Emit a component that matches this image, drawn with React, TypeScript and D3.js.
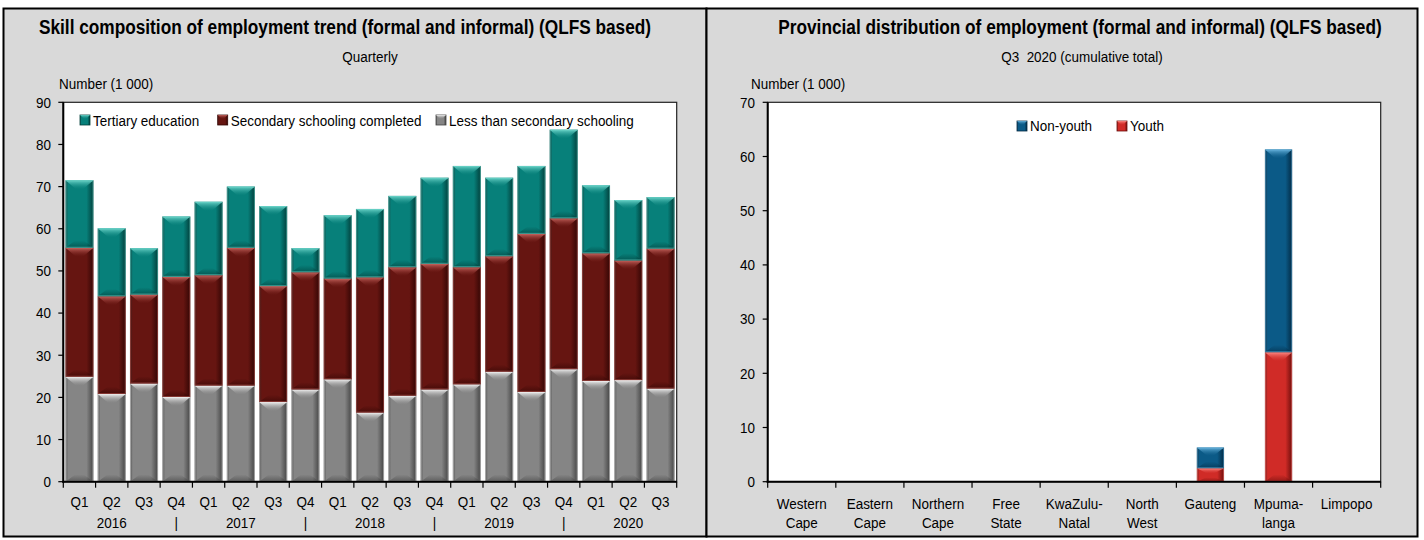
import React from 'react';
import * as d3 from 'd3';

// ---------- data ----------
const quarters = ["Q1","Q2","Q3","Q4","Q1","Q2","Q3","Q4","Q1","Q2","Q3","Q4","Q1","Q2","Q3","Q4","Q1","Q2","Q3"];
const yearRow = ["","2016","","|","","2017","","|","","2018","","|","","2019","","|","","2020",""];
const lessThanSecondary = [24.9,20.8,23.3,20.1,22.8,22.8,18.9,21.9,24.3,16.4,20.4,21.9,23.1,26.1,21.3,26.7,23.9,24.1,22.1];
const secondaryCompleted = [30.6,23.2,21.1,28.5,26.2,32.7,27.5,27.8,23.9,32.1,30.5,29.8,27.8,27.4,37.5,35.8,30.3,28.4,33.2];
const tertiaryEducation = [16.0,16.1,11.0,14.3,17.4,14.5,19.0,5.7,15.0,16.2,16.9,20.4,24.0,18.6,16.1,21.0,16.1,14.3,12.2];
const leftTicks = [0,10,20,30,40,50,60,70,80,90];
const leftSeriesNames = ["Tertiary education","Secondary schooling completed","Less than secondary schooling"];

const provinceLines = [["Western","Cape"],["Eastern","Cape"],["Northern","Cape"],["Free","State"],["KwaZulu-","Natal"],["North","West"],["Gauteng"],["Mpuma-","langa"],["Limpopo"]];
const youth = [0,0,0,0,0,0,2.5,23.9,0];
const nonYouth = [0,0,0,0,0,0,3.8,37.4,0];
const rightTicks = [0,10,20,30,40,50,60,70];
const rightSeriesNames = ["Non-youth","Youth"];

// ---------- styling ----------
const FONT = "'Liberation Sans', Arial, Helvetica, sans-serif";
const PAL: Record<string,{base:string,light:string,dark:string}> = {
  teal:{base:'#07807A',light:'#6AD3C8',dark:'#023F3B'},
  maroon:{base:'#661511',light:'#C4625C',dark:'#330604'},
  gray:{base:'#858585',light:'#F0F0F0',dark:'#444444'},
  blue:{base:'#0B5A87',light:'#66B2DC',dark:'#032B45'},
  red:{base:'#D02B27',light:'#FF8A84',dark:'#6E0E0C'},
};

function T({x,y,anchor='middle',size=15.3,weight='normal',children}:{x:number,y:number,anchor?:string,size?:number,weight?:string,children:any}) {
  return (
    <g transform={`translate(${x},${y}) scale(0.88,1)`}>
      <text textAnchor={anchor as any} fontSize={size} fontWeight={weight} fontFamily={FONT} fill="#000" style={{whiteSpace:'pre'}}>{children}</text>
    </g>
  );
}

function Defs() {
  return (
    <defs>
      {Object.entries(PAL).map(([k,c]) => (
        <React.Fragment key={k}>
          <linearGradient id={`h-${k}`} x1="0" x2="1" y1="0" y2="0">
            <stop offset="0" stopColor={c.dark} stopOpacity={0.9}/>
            <stop offset="0.1" stopColor={c.base}/>
            <stop offset="0.75" stopColor={c.base}/>
            <stop offset="1" stopColor={c.dark}/>
          </linearGradient>
          <linearGradient id={`t-${k}`} x1="0" x2="0" y1="0" y2="1">
            <stop offset="0" stopColor={c.light} stopOpacity={1}/>
            <stop offset="1" stopColor={c.base} stopOpacity={0.2}/>
          </linearGradient>
          <linearGradient id={`b-${k}`} x1="0" x2="0" y1="0" y2="1">
            <stop offset="0" stopColor={c.dark} stopOpacity={0}/>
            <stop offset="1" stopColor={c.dark} stopOpacity={0.6}/>
          </linearGradient>
        </React.Fragment>
      ))}
    </defs>
  );
}

function Seg({x,y0,y1,w,c}:{x:number,y0:number,y1:number,w:number,c:string}) {
  const h = y1 - y0;
  if (h <= 0.3) return null;
  const bev = Math.min(9, h*0.4);
  const xc = x + w/2;
  const top = `${x},${y0} ${x+w},${y0} ${xc+w*0.12},${y0+bev} ${xc-w*0.12},${y0+bev}`;
  const bot = `${x},${y1} ${x+w},${y1} ${xc+w*0.15},${y1-bev*0.8} ${xc-w*0.15},${y1-bev*0.8}`;
  return (
    <g>
      <rect x={x} y={y0} width={w} height={h} fill={`url(#h-${c})`}/>
      <polygon points={top} fill={`url(#t-${c})`}/>
      <polygon points={bot} fill={`url(#b-${c})`}/>
      <rect x={x+0.5} y={y0+0.5} width={w-1} height={h-1} fill="none" stroke={PAL[c].light} strokeOpacity={0.5} strokeWidth={1}/>
    </g>
  );
}

function Swatch({x,y,c}:{x:number,y:number,c:string}) {
  return (
    <g>
      <rect x={x} y={y} width={10} height={10} fill={`url(#h-${c})`} stroke={PAL[c].dark} strokeWidth={0.8}/>
      <polygon points={`${x},${y} ${x+10},${y} ${x+6},${y+4} ${x+4},${y+4}`} fill={`url(#t-${c})`}/>
    </g>
  );
}

function LeftChart() {
  const pl = 63.3, pr = 676.7, pt = 102.3, pb = 481.7;
  const x = d3.scaleBand<number>().domain(quarters.map((_,i)=>i)).range([pl,pr]).paddingInner(0.13).paddingOuter(0.065);
  const y = d3.scaleLinear().domain([0,90]).range([pb,pt]);
  const rows = quarters.map((_,i)=>({less:lessThanSecondary[i], sec:secondaryCompleted[i], ter:tertiaryEducation[i]}));
  const stack = d3.stack<any>().keys(['less','sec','ter'])(rows);
  const colorOf: Record<string,string> = {less:'gray', sec:'maroon', ter:'teal'};
  const step = x.step();
  const legendX = [80, 217.7, 436];
  const legendC = ['teal','maroon','gray'];
  return (
    <g>
      <rect x={3.5} y={8.5} width={703} height={528} fill="#D9D9D9" stroke="#000" strokeWidth={2}/>
      <T x={345} y={34} size={19.6} weight="bold">Skill composition of employment trend (formal and informal) (QLFS based)</T>
      <T x={370} y={62}>Quarterly</T>
      <T x={59} y={89} anchor="start">Number (1 000)</T>
      <rect x={pl} y={pt} width={pr-pl} height={pb-pt} fill="#fff" stroke="#222" strokeWidth={1.2}/>
      {stack.map(s => s.map((d,i)=>(
        <Seg key={s.key+i} x={x(i)!} w={x.bandwidth()} y0={y(d[1])} y1={y(d[0])} c={colorOf[s.key]}/>
      )))}
      {leftSeriesNames.map((n,i)=>(
        <g key={n}>
          <Swatch x={legendX[i]} y={115} c={legendC[i]}/>
          <T x={legendX[i]+13} y={125.5} anchor="start">{n}</T>
        </g>
      ))}
      <line x1={pl} x2={pl} y1={pt} y2={pb+1} stroke="#000" strokeWidth={2}/>
      <line x1={pl-1} x2={pr} y1={pb} y2={pb} stroke="#000" strokeWidth={2}/>
      {leftTicks.map(t=>(
        <g key={t}>
          <line x1={pl-5} x2={pl} y1={y(t)} y2={y(t)} stroke="#000" strokeWidth={1.2}/>
          <T x={51} y={y(t)+5.3} anchor="end">{t}</T>
        </g>
      ))}
      {d3.range(quarters.length+1).map(i=>(
        <line key={i} x1={pl+i*step} x2={pl+i*step} y1={pb} y2={pb+6} stroke="#000" strokeWidth={1.2}/>
      ))}
      {quarters.map((q,i)=>(
        <g key={i}>
          <T x={x(i)!+x.bandwidth()/2} y={507}>{q}</T>
          {yearRow[i] && <T x={x(i)!+x.bandwidth()/2} y={528}>{yearRow[i]}</T>}
        </g>
      ))}
    </g>
  );
}

function RightChart() {
  const pl = 767.7, pr = 1380.7, pt = 102.3, pb = 481.7;
  const x = d3.scaleBand<number>().domain(provinceLines.map((_,i)=>i)).range([pl,pr]).paddingInner(0.6).paddingOuter(0.3);
  const y = d3.scaleLinear().domain([0,70]).range([pb,pt]);
  const rows = provinceLines.map((_,i)=>({youth:youth[i], non:nonYouth[i]}));
  const stack = d3.stack<any>().keys(['youth','non'])(rows);
  const colorOf: Record<string,string> = {youth:'red', non:'blue'};
  const step = x.step();
  const legendX = [1017, 1117];
  const legendC = ['blue','red'];
  return (
    <g>
      <rect x={706.5} y={8.5} width={711} height={528} fill="#D9D9D9" stroke="#000" strokeWidth={2}/>
      <T x={1080} y={34} size={19.6} weight="bold">Provincial distribution of employment (formal and informal) (QLFS based)</T>
      <T x={1082} y={62}>Q3  2020 (cumulative total)</T>
      <T x={751} y={89} anchor="start">Number (1 000)</T>
      <rect x={pl} y={pt} width={pr-pl} height={pb-pt} fill="#fff" stroke="#222" strokeWidth={1.2}/>
      {stack.map(s => s.map((d,i)=>(
        <Seg key={s.key+i} x={x(i)!} w={x.bandwidth()} y0={y(d[1])} y1={y(d[0])} c={colorOf[s.key]}/>
      )))}
      {rightSeriesNames.map((n,i)=>(
        <g key={n}>
          <Swatch x={legendX[i]} y={121} c={legendC[i]}/>
          <T x={legendX[i]+13} y={131} anchor="start">{n}</T>
        </g>
      ))}
      <line x1={pl} x2={pl} y1={pt} y2={pb+1} stroke="#000" strokeWidth={2}/>
      <line x1={pl-1} x2={pr} y1={pb} y2={pb} stroke="#000" strokeWidth={2}/>
      {rightTicks.map(t=>(
        <g key={t}>
          <line x1={pl-5} x2={pl} y1={y(t)} y2={y(t)} stroke="#000" strokeWidth={1.2}/>
          <T x={755} y={y(t)+5.3} anchor="end">{t}</T>
        </g>
      ))}
      {d3.range(provinceLines.length+1).map(i=>(
        <line key={i} x1={pl+i*step} x2={pl+i*step} y1={pb} y2={pb+6} stroke="#000" strokeWidth={1.2}/>
      ))}
      {provinceLines.map((lines,i)=>(
        <g key={i}>
          {lines.map((l,j)=>(
            <T key={j} x={x(i)!+x.bandwidth()/2} y={509+j*19}>{l}</T>
          ))}
        </g>
      ))}
    </g>
  );
}

export default function App() {
  return (
    <svg width={1424} height={540} style={{position:'absolute', left:0, top:0, background:'#fff'}}>
      <Defs/>
      <LeftChart/>
      <RightChart/>
    </svg>
  );
}
